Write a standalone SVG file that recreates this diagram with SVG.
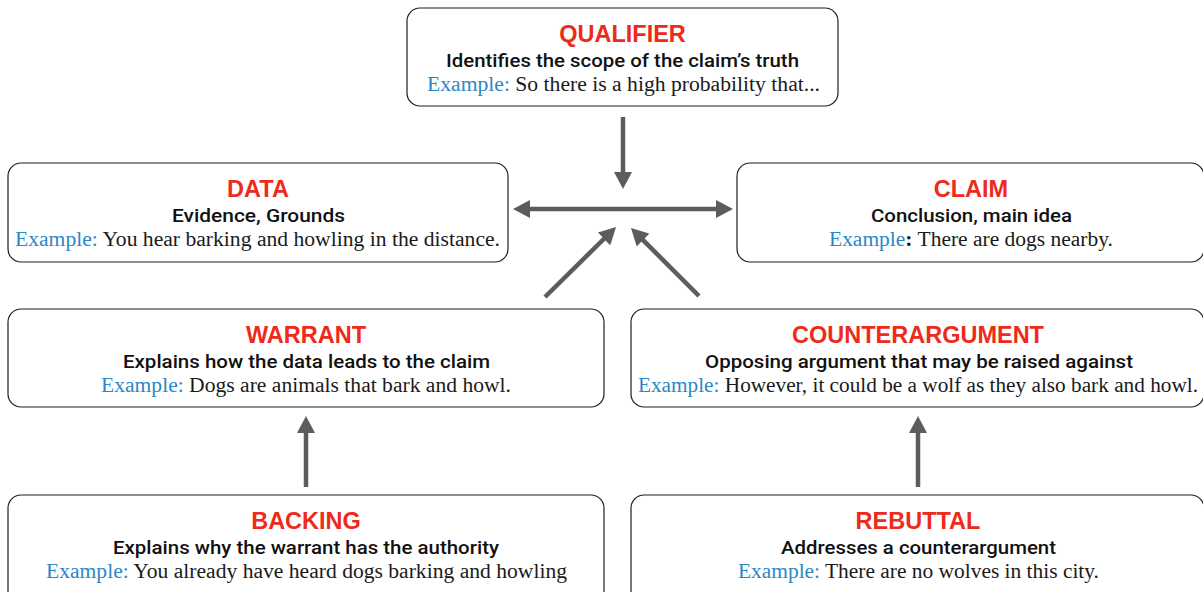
<svg xmlns="http://www.w3.org/2000/svg" width="1203" height="592" viewBox="0 0 1203 592">
<defs>
<style>
.box{fill:#fff;stroke:#1e1e1e;stroke-width:1.2}
.t{font-family:"Liberation Sans",Arial,sans-serif;font-weight:bold;font-size:23.5px;fill:#ee2a1b;text-anchor:middle}
.s{font-family:Roboto,"Liberation Sans",Arial,sans-serif;font-weight:500;font-size:18px;fill:#111;text-anchor:middle}
.e{font-family:"Liberation Serif","Times New Roman",serif;font-size:20.5px;fill:#1a1a1a;text-anchor:middle}
.b{fill:#2a88c9}
.c{stroke:#5c5c5c;stroke-width:4.5;fill:none;marker-end:url(#ah)}
</style>
<marker id="ah" markerUnits="userSpaceOnUse" markerWidth="18" markerHeight="18" refX="7" refY="9" orient="auto-start-reverse" viewBox="0 0 18 18">
<path d="M0,0 L17,9 L0,18 z" fill="#5c5c5c"/>
</marker>
</defs>
<g id="qualifier">
<rect class="box" x="407" y="8" width="431" height="98" rx="13"/>
<text class="t" x="622.5" y="42">QUALIFIER</text>
<text class="s" x="622.5" y="67" textLength="353" lengthAdjust="spacingAndGlyphs">Identifies the scope of the claim’s truth</text>
<text class="e" x="623.5" y="91" textLength="393" lengthAdjust="spacingAndGlyphs"><tspan class="b">Example:</tspan> So there is a high probability that...</text>
</g>
<g id="data">
<rect class="box" x="8" y="163" width="500" height="99" rx="13"/>
<text class="t" x="258" y="197">DATA</text>
<text class="s" x="258.5" y="222" textLength="173" lengthAdjust="spacingAndGlyphs">Evidence, Grounds</text>
<text class="e" x="257.5" y="246" textLength="485" lengthAdjust="spacingAndGlyphs"><tspan class="b">Example:</tspan> You hear barking and howling in the distance.</text>
</g>
<g id="claim">
<rect class="box" x="737" y="163" width="467" height="99" rx="13"/>
<text class="t" x="971" y="197">CLAIM</text>
<text class="s" x="971.5" y="222" textLength="201" lengthAdjust="spacingAndGlyphs">Conclusion, main idea</text>
<text class="e" x="971" y="246" textLength="284" lengthAdjust="spacingAndGlyphs"><tspan class="b">Example</tspan><tspan font-weight="bold">:</tspan> There are dogs nearby.</text>
</g>
<g id="warrant">
<rect class="box" x="8" y="309" width="596" height="98" rx="13"/>
<text class="t" x="306" y="343">WARRANT</text>
<text class="s" x="306.5" y="368" textLength="367" lengthAdjust="spacingAndGlyphs">Explains how the data leads to the claim</text>
<text class="e" x="306" y="392" textLength="410" lengthAdjust="spacingAndGlyphs"><tspan class="b">Example:</tspan> Dogs are animals that bark and howl.</text>
</g>
<g id="counterargument">
<rect class="box" x="631" y="309" width="573" height="98" rx="13"/>
<text class="t" x="918" y="343">COUNTERARGUMENT</text>
<text class="s" x="919" y="368" textLength="428" lengthAdjust="spacingAndGlyphs">Opposing argument that may be raised against</text>
<text class="e" x="918" y="392" textLength="560" lengthAdjust="spacingAndGlyphs"><tspan class="b">Example:</tspan> However, it could be a wolf as they also bark and howl.</text>
</g>
<g id="backing">
<rect class="box" x="8" y="495" width="596" height="110" rx="13"/>
<text class="t" x="306" y="529">BACKING</text>
<text class="s" x="306" y="554" textLength="386" lengthAdjust="spacingAndGlyphs">Explains why the warrant has the authority</text>
<text class="e" x="306.5" y="578" textLength="521" lengthAdjust="spacingAndGlyphs"><tspan class="b">Example:</tspan> You already have heard dogs barking and howling</text>
</g>
<g id="rebuttal">
<rect class="box" x="631" y="495" width="573" height="110" rx="13"/>
<text class="t" x="918" y="529">REBUTTAL</text>
<text class="s" x="918.5" y="554" textLength="275" lengthAdjust="spacingAndGlyphs">Addresses a counterargument</text>
<text class="e" x="918.5" y="578" textLength="361" lengthAdjust="spacingAndGlyphs"><tspan class="b">Example:</tspan> There are no wolves in this city.</text>
</g>
<g id="connectors">
<line class="c" x1="623" y1="117" x2="623" y2="179"/>
<line class="c" x1="523" y1="209" x2="723" y2="209" style="marker-start:url(#ah)"/>
<line class="c" x1="545" y1="297" x2="608.9" y2="234"/>
<line class="c" x1="699" y1="296" x2="638.1" y2="235.1"/>
<line class="c" x1="306" y1="487" x2="306" y2="426"/>
<line class="c" x1="918" y1="487" x2="918" y2="426"/>
</g>
</svg>
